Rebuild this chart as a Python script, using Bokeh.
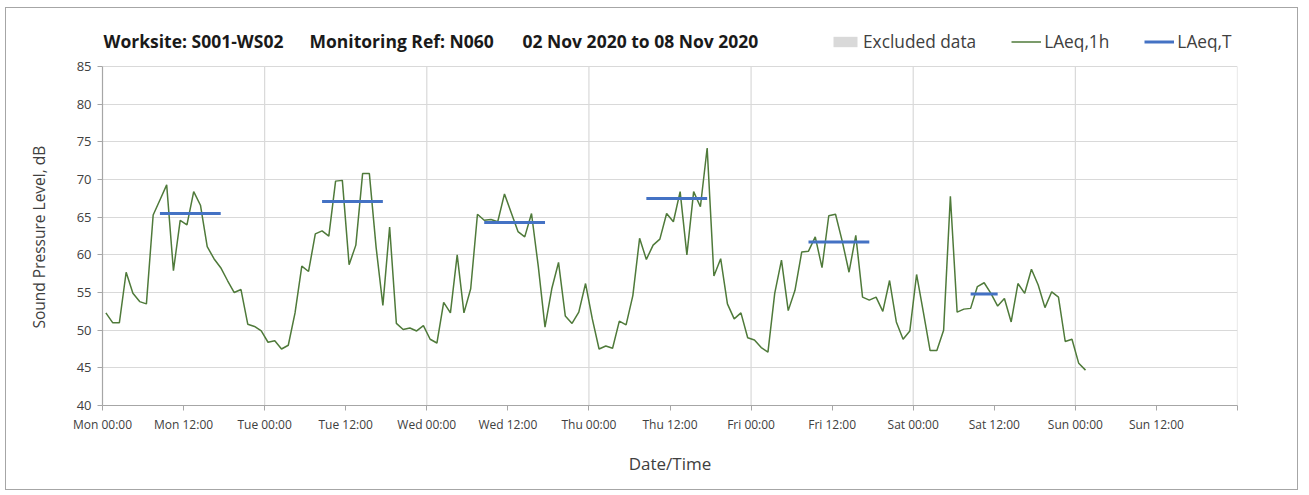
import numpy as np
from bokeh.plotting import figure
from bokeh.models import (Range1d, FixedTicker, Label, Legend, LegendItem,
                          ColumnDataSource, Title)
from bokeh.embed import file_html
from bokeh.resources import INLINE

# Hourly LAeq,1h values (dB), one list per day, starting Mon 02 Nov 2020 00:00
mon = [52.3, 51.0, 51.0, 57.7, 54.9, 53.8, 53.5, 65.3, 67.3, 69.3, 57.9, 64.6,
       64.0, 68.4, 66.6, 61.1, 59.5, 58.3, 56.6, 55.0, 55.4, 50.8, 50.5, 49.9]
tue = [48.4, 48.6, 47.5, 48.0, 52.3, 58.5, 57.8, 62.8, 63.2, 62.5, 69.8, 69.9,
       58.7, 61.3, 70.8, 70.8, 61.0, 53.3, 63.7, 50.9, 50.1, 50.3, 49.9, 50.6]
wed = [48.8, 48.3, 53.7, 52.3, 60.0, 52.3, 55.5, 65.4, 64.6, 64.7, 64.4, 68.1,
       65.6, 63.1, 62.4, 65.5, 58.5, 50.4, 55.5, 59.0, 51.9, 50.9, 52.4, 56.2]
thu = [51.5, 47.5, 47.9, 47.6, 51.2, 50.7, 54.6, 62.2, 59.4, 61.3, 62.1, 65.5,
       64.4, 68.4, 60.0, 68.4, 66.4, 74.2, 57.2, 59.5, 53.5, 51.5, 52.3, 49.0]
fri = [48.7, 47.7, 47.1, 54.9, 59.3, 52.6, 55.3, 60.4, 60.5, 62.4, 58.3, 65.2,
       65.4, 61.8, 57.7, 62.6, 54.4, 54.0, 54.4, 52.5, 56.6, 51.1, 48.8, 49.9]
sat = [57.4, 52.4, 47.3, 47.3, 50.0, 67.8, 52.4, 52.8, 52.9, 55.8, 56.3, 54.9,
       53.2, 54.2, 51.1, 56.2, 54.9, 58.1, 56.0, 53.0, 55.1, 54.4, 48.5, 48.8]
sun = [45.6, 44.7]

laeq_1h = mon + tue + wed + thu + fri + sat + sun
# hours flagged as excluded from the assessment (none this week)
excluded = [False] * len(laeq_1h)

# Daytime LAeq,T per assessment period (hours from Mon 00:00)
period_start = [8.5, 32.5, 56.5, 80.5, 104.5, 128.5]
period_end = [17.5, 41.5, 65.5, 89.5, 113.5, 132.5]
laeq_t = [65.5, 67.1, 64.3, 67.5, 61.7, 54.8]

tick_hours = list(range(0, 169, 12))
tick_labels = ["Mon 00:00", "Mon 12:00", "Tue 00:00", "Tue 12:00",
               "Wed 00:00", "Wed 12:00", "Thu 00:00", "Thu 12:00",
               "Fri 00:00", "Fri 12:00", "Sat 00:00", "Sat 12:00",
               "Sun 00:00", "Sun 12:00", ""]
midnights = list(range(24, 169, 24))
y_ticks = list(range(40, 86, 5))
Y_MIN, Y_MAX = 40, 85

title_parts = ["Worksite: S001-WS02", "Monitoring Ref: N060",
               "02 Nov 2020 to 08 Nov 2020"]

FONT = "Open Sans"
TXT = "#404040"
GRID = "#d9d9d9"
GREEN = "#4f7a3a"
BLUE = "#4472c4"

# each hourly value sits at the middle of its hour
hours = np.arange(len(laeq_1h)) + 0.5
src = ColumnDataSource(dict(
    x=hours, y=laeq_1h, left=hours - 0.5, right=hours + 0.5,
    excl_top=np.where(excluded, Y_MAX, np.nan)))

# the frame reaches above the 85 dB line so the heading and legend
# share the band on top of the chart
p = figure(width=1293, height=483,
           x_range=Range1d(0, 168), y_range=Range1d(Y_MIN, 91),
           output_backend="svg", toolbar_location=None,
           min_border_left=96, min_border_right=62,
           min_border_top=13, min_border_bottom=86)
p.styles = {"border": "1px solid #a6a6a6", "margin-left": "5px",
            "margin-top": "7px"}
p.outline_line_color = None
p.background_fill_color = "white"

# grid: horizontal every 5 dB, vertical at midnight only
p.ygrid.ticker = FixedTicker(ticks=y_ticks[1:])
p.ygrid.grid_line_color = GRID
p.ygrid.grid_line_width = 1.2
p.xgrid.grid_line_color = None
p.segment(x0=midnights, x1=midnights, y0=Y_MIN, y1=Y_MAX,
          line_color=GRID, line_width=1.2)

xa = p.xaxis[0]
xa.ticker = FixedTicker(ticks=tick_hours)
xa.major_label_overrides = {h: lab for h, lab in zip(tick_hours, tick_labels)}
xa.axis_label = "Date/Time"
ya = p.yaxis[0]
ya.ticker = FixedTicker(ticks=y_ticks)
ya.bounds = (Y_MIN, Y_MAX)

for ax in (xa, ya):
    ax.axis_line_color = "#a6a6a6"
    ax.axis_line_width = 1.2
    ax.major_tick_line_color = "#a6a6a6"
    ax.major_tick_in = 0
    ax.major_tick_out = 5
    ax.minor_tick_line_color = None
    ax.major_label_text_font = FONT
    ax.major_label_text_color = TXT
xa.axis_label_text_font = FONT
xa.axis_label_text_font_style = "normal"
xa.axis_label_text_color = TXT
xa.axis_label_text_font_size = "17px"
xa.major_label_text_font_size = "12px"
ya.major_label_text_font_size = "13px"
xa.major_label_standoff = 5
ya.major_label_standoff = 6
xa.axis_label_standoff = 16

# y-axis title, centred on the 40-85 dB span rather than the whole frame
p.add_layout(Title(text="Sound Pressure Level, dB", align="left", offset=77,
                   vertical_align="top", standoff=43, text_font=FONT,
                   text_font_style="normal", text_font_size="15.5px",
                   text_color=TXT), "left")

r_excl = p.quad(left="left", right="right", bottom=Y_MIN, top="excl_top",
                source=src, fill_color=GRID, line_color=None)
r_1h = p.line("x", "y", source=src, line_color=GREEN, line_width=1.5)
r_t = p.segment(x0=period_start, x1=period_end, y0=laeq_t, y1=laeq_t,
                line_color=BLUE, line_width=3)

legend = Legend(items=[LegendItem(label="Excluded data", renderers=[r_excl]),
                       LegendItem(label="LAeq,1h", renderers=[r_1h]),
                       LegendItem(label="LAeq,T", renderers=[r_t])],
                orientation="horizontal", location=(728, 352),
                border_line_color=None, background_fill_alpha=0,
                padding=0, margin=0, spacing=35, label_standoff=3,
                glyph_width=30, glyph_height=13,
                label_text_font=FONT, label_text_font_size="17.3px",
                label_text_color=TXT, label_height=20)
p.add_layout(legend, "center")

# heading, three blocks on one line
for txt, tx in zip(title_parts, [1, 207, 420]):
    p.add_layout(Label(x=tx, y=365, x_units="screen", y_units="screen",
                       text=txt, text_font=FONT, text_font_style="bold",
                       text_font_size="17.5px", text_color="#1a1a1a",
                       text_baseline="middle"))

open("out.html", "w").write(file_html(p, INLINE))
